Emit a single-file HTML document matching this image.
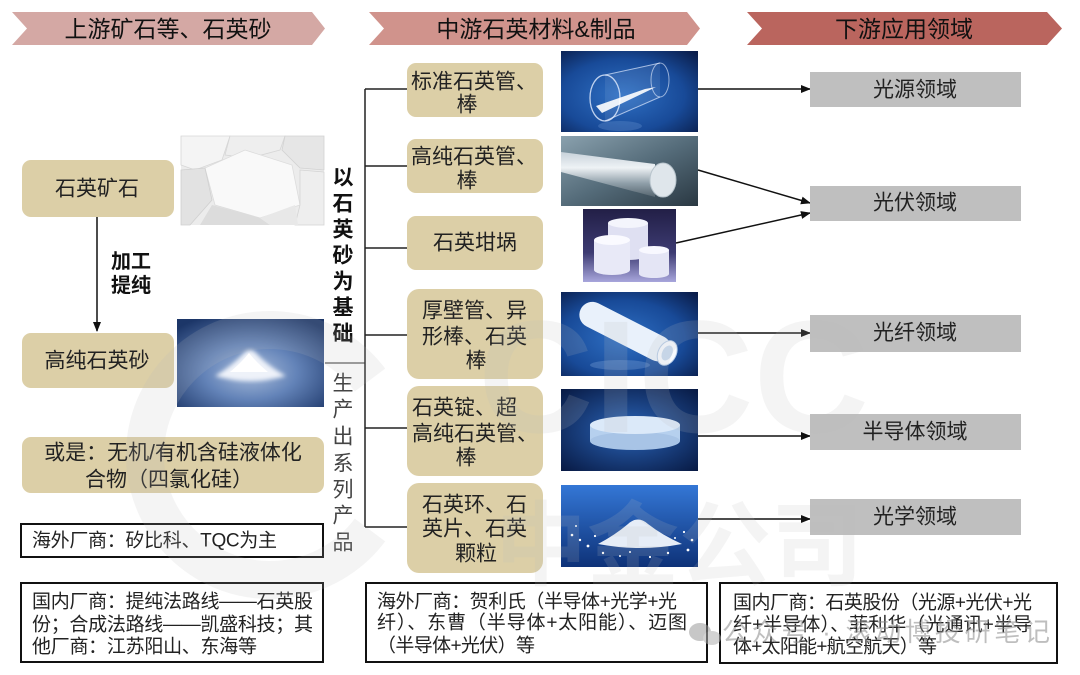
<!DOCTYPE html>
<html><head><meta charset="utf-8">
<style>
html,body{margin:0;padding:0;background:#fff;}
svg{display:block;}
text{font-family:"Liberation Sans","Noto Sans CJK SC",sans-serif;}
</style></head><body>
<svg width="1080" height="675" viewBox="0 0 1080 675" xmlns="http://www.w3.org/2000/svg">
<defs>
 <radialGradient id="gB1" cx="0.45" cy="0.55" r="0.75">
  <stop offset="0" stop-color="#2f70c4"/><stop offset="0.6" stop-color="#184a98"/><stop offset="1" stop-color="#0a1d4a"/>
 </radialGradient>
 <linearGradient id="gRodBg" x1="0" y1="0" x2="1" y2="1">
  <stop offset="0" stop-color="#8aa1ae"/><stop offset="0.5" stop-color="#556c7a"/><stop offset="1" stop-color="#2a3842"/>
 </linearGradient>
 <linearGradient id="gRod" x1="0" y1="0" x2="0" y2="1">
  <stop offset="0" stop-color="#c8d2da"/><stop offset="0.35" stop-color="#eef2f5"/><stop offset="0.7" stop-color="#8e9ea8"/><stop offset="1" stop-color="#56656f"/>
 </linearGradient>
 <linearGradient id="gCru" x1="0" y1="0" x2="0" y2="1">
  <stop offset="0" stop-color="#221f46"/><stop offset="0.6" stop-color="#3d3b72"/><stop offset="1" stop-color="#a8a6dc"/>
 </linearGradient>
 <linearGradient id="gGran" x1="0" y1="0" x2="0" y2="1">
  <stop offset="0" stop-color="#3477d6"/><stop offset="1" stop-color="#0e3278"/>
 </linearGradient>
 <radialGradient id="gPow" cx="0.5" cy="0.6" r="0.7">
  <stop offset="0" stop-color="#a9bddb"/><stop offset="0.45" stop-color="#6383b8"/><stop offset="1" stop-color="#1c3668"/>
 </radialGradient>
 <radialGradient id="gDisc" cx="0.5" cy="0.5" r="0.7">
  <stop offset="0" stop-color="#2a64b8"/><stop offset="1" stop-color="#081a44"/>
 </radialGradient>
 <marker id="ah" markerWidth="10" markerHeight="8" refX="9" refY="4" orient="auto" markerUnits="userSpaceOnUse">
  <path d="M0,0 L10,4 L0,8 z" fill="#111"/>
 </marker>
 <filter id="blur1"><feGaussianBlur stdDeviation="2"/></filter>
</defs>

<!-- Headers -->
<polygon points="12,12 312,12 325,28.5 312,45 12,45 27,28.5" fill="#d4a8a4"/>
<text x="168" y="29" font-size="23" text-anchor="middle" dominant-baseline="central" fill="#111">上游矿石等、石英砂</text>
<polygon points="369,12 687,12 700,28.5 687,45 369,45 384,28.5" fill="#d0938c"/>
<text x="536" y="29" font-size="23" text-anchor="middle" dominant-baseline="central" fill="#111">中游石英材料&amp;制品</text>
<polygon points="747,12 1047,12 1062,28.5 1047,45 747,45 762,28.5" fill="#ba655e"/>
<text x="904" y="29" font-size="23" text-anchor="middle" dominant-baseline="central" fill="#111">下游应用领域</text>

<!-- Left column -->
<rect x="22" y="160" width="152" height="57" rx="9" fill="#dccfa7"/>
<text x="97" y="189" font-size="21" text-anchor="middle" dominant-baseline="central" fill="#222">石英矿石</text>
<line x1="97" y1="217" x2="97" y2="331" stroke="#111" stroke-width="1.5" marker-end="url(#ah)"/>
<text x="131" y="262" font-size="20" font-weight="bold" text-anchor="middle" dominant-baseline="central" fill="#111">加工</text>
<text x="131" y="286" font-size="20" font-weight="bold" text-anchor="middle" dominant-baseline="central" fill="#111">提纯</text>
<rect x="22" y="333" width="152" height="55" rx="9" fill="#dccfa7"/>
<text x="97" y="361" font-size="21" text-anchor="middle" dominant-baseline="central" fill="#222">高纯石英砂</text>

<!-- Ore image -->
<g>
 <rect x="181" y="136" width="143" height="89" fill="#ececec"/>
 <polygon points="181,136 230,136 222,160 195,170 181,165" fill="#f4f4f4" stroke="#d6d6d6" stroke-width="0.8"/>
 <polygon points="230,136 285,136 280,150 250,158 225,155" fill="#eeeeee" stroke="#d6d6d6" stroke-width="0.8"/>
 <polygon points="285,136 324,136 324,170 300,168 282,150" fill="#e6e6e6" stroke="#d2d2d2" stroke-width="0.8"/>
 <polygon points="205,168 245,150 292,165 300,205 260,218 215,205" fill="#f9f9f9" stroke="#dcdcdc" stroke-width="0.8"/>
 <polygon points="181,170 205,168 212,200 190,225 181,225" fill="#e2e2e2" stroke="#d0d0d0" stroke-width="0.8"/>
 <polygon points="300,170 324,172 324,225 295,225 300,205" fill="#eeeeee" stroke="#d4d4d4" stroke-width="0.8"/>
 <polygon points="212,205 260,218 270,225 200,225" fill="#dcdcdc"/>
 <polygon points="260,218 295,205 298,225 270,225" fill="#e8e8e8"/>
</g>

<!-- Powder image -->
<g>
 <rect x="177" y="319" width="147" height="88" fill="url(#gPow)"/>
 <path d="M215,376 Q232,366 243,354 Q250,346 257,354 Q268,366 286,376 Q250,386 215,376 Z" fill="#eef2f9" filter="url(#blur1)"/>
 <path d="M230,372 Q242,362 249,353 Q256,362 268,372 Z" fill="#ffffff"/>
</g>

<rect x="22" y="437" width="302" height="56" rx="9" fill="#dccfa7"/>
<text x="173" y="453" font-size="21" text-anchor="middle" dominant-baseline="central" fill="#222">或是：无机/有机含硅液体化</text>
<text x="169" y="480" font-size="21" text-anchor="middle" dominant-baseline="central" fill="#222">合物（四氯化硅）</text>

<rect x="21" y="524" width="302" height="33" fill="#fff" stroke="#111" stroke-width="2"/>
<text x="32" y="541" font-size="19" dominant-baseline="central" fill="#222" textLength="245" lengthAdjust="spacing">海外厂商：矽比科、TQC为主</text>

<rect x="21" y="583" width="302" height="79" fill="#fff" stroke="#111" stroke-width="2"/>
<text x="32" y="602" font-size="19" dominant-baseline="central" fill="#222" textLength="281" lengthAdjust="spacing">国内厂商：提纯法路线——石英股</text>
<text x="32" y="625" font-size="19" dominant-baseline="central" fill="#222" textLength="281" lengthAdjust="spacing">份；合成法路线——凯盛科技；其</text>
<text x="32" y="647" font-size="19" dominant-baseline="central" fill="#222" textLength="225" lengthAdjust="spacing">他厂商：江苏阳山、东海等</text>

<!-- Vertical labels -->
<g font-size="21" font-weight="bold" fill="#111" text-anchor="middle" dominant-baseline="central">
 <text x="343" y="178">以</text><text x="343" y="204">石</text><text x="343" y="230">英</text>
 <text x="343" y="256">砂</text><text x="343" y="282">为</text><text x="343" y="308">基</text><text x="343" y="334">础</text>
</g>
<line x1="325" y1="363" x2="365" y2="363" stroke="#555" stroke-width="1.2"/>
<g font-size="21" fill="#444" text-anchor="middle" dominant-baseline="central">
 <text x="343" y="384">生</text><text x="343" y="410">产</text><text x="343" y="437">出</text>
 <text x="343" y="464">系</text><text x="343" y="490">列</text><text x="343" y="516">产</text><text x="343" y="543">品</text>
</g>

<!-- Trunk & branches -->
<g stroke="#222" stroke-width="1.5" fill="none">
 <line x1="365" y1="89" x2="365" y2="527"/>
 <line x1="365" y1="89" x2="407" y2="89"/>
 <line x1="365" y1="166" x2="407" y2="166"/>
 <line x1="365" y1="248" x2="407" y2="248"/>
 <line x1="365" y1="335" x2="407" y2="335"/>
 <line x1="365" y1="428" x2="407" y2="428"/>
 <line x1="365" y1="527" x2="407" y2="527"/>
</g>

<!-- Middle boxes -->
<g fill="#dccfa7">
 <rect x="407" y="63" width="136" height="54" rx="9"/>
 <rect x="407" y="139" width="136" height="54" rx="9"/>
 <rect x="407" y="216" width="136" height="54" rx="9"/>
 <rect x="407" y="289" width="136" height="90" rx="12"/>
 <rect x="407" y="386" width="136" height="90" rx="12"/>
 <rect x="407" y="483" width="136" height="90" rx="12"/>
</g>
<g font-size="21" fill="#222" dominant-baseline="central">
 <text x="411" y="82">标准石英管、</text>
 <text x="467" y="105" text-anchor="middle">棒</text>
 <text x="411" y="157">高纯石英管、</text>
 <text x="467" y="181" text-anchor="middle">棒</text>
 <text x="475" y="243" text-anchor="middle">石英坩埚</text>
 <text x="422" y="311">厚壁管、异</text>
 <text x="422" y="337">形棒、石英</text>
 <text x="476" y="361" text-anchor="middle">棒</text>
 <text x="412" y="408">石英锭、超</text>
 <text x="412" y="434">高纯石英管、</text>
 <text x="466" y="458" text-anchor="middle">棒</text>
 <text x="422" y="505">石英环、石</text>
 <text x="422" y="529">英片、石英</text>
 <text x="476" y="554" text-anchor="middle">颗粒</text>
</g>

<!-- img1 glass tube -->
<g>
 <rect x="561" y="51" width="137" height="81" fill="url(#gB1)"/>
 <polygon points="605,75 660,63 660,97 605,121" fill="#ffffff" opacity="0.08"/>
 <line x1="605" y1="75" x2="660" y2="63" stroke="#dfeaff" stroke-width="1" opacity="0.7"/>
 <line x1="605" y1="121" x2="660" y2="97" stroke="#dfeaff" stroke-width="1" opacity="0.7"/>
 <ellipse cx="605" cy="98" rx="15" ry="23" fill="none" stroke="#e6efff" stroke-width="1.3" opacity="0.8"/>
 <ellipse cx="660" cy="80" rx="9" ry="17" fill="none" stroke="#e6efff" stroke-width="1" opacity="0.6"/>
 <polygon points="596,106 645,89 656,87 602,113" fill="#ffffff" opacity="0.9"/>
 <ellipse cx="620" cy="126" rx="22" ry="5" fill="#6f9ad8" opacity="0.3"/>
</g>

<!-- img2 rod -->
<g>
 <rect x="561" y="136" width="137" height="70" fill="url(#gRodBg)"/>
 <polygon points="561,152 655,164 655,197 561,172" fill="url(#gRod)"/>
 <ellipse cx="663" cy="180" rx="13" ry="17" fill="#dfe6eb" stroke="#b8c4cc" stroke-width="1"/>
</g>

<!-- img3 crucibles -->
<g>
 <rect x="583" y="209" width="93" height="73" fill="url(#gCru)"/>
 <rect x="608" y="223" width="40" height="32" fill="#dfe0f2"/>
 <ellipse cx="628" cy="223" rx="20" ry="5" fill="#f4f5fc"/>
 <ellipse cx="628" cy="255" rx="20" ry="5" fill="#dfe0f2"/>
 <rect x="594" y="240" width="36" height="30" fill="#e8e9f7"/>
 <ellipse cx="612" cy="240" rx="18" ry="5" fill="#fafaff"/>
 <ellipse cx="612" cy="270" rx="18" ry="5" fill="#e8e9f7"/>
 <rect x="639" y="250" width="30" height="24" fill="#e4e5f5"/>
 <ellipse cx="654" cy="250" rx="15" ry="4" fill="#f8f8ff"/>
 <ellipse cx="654" cy="274" rx="15" ry="4" fill="#e4e5f5"/>
</g>

<!-- img4 thick tube -->
<g>
 <rect x="561" y="292" width="137" height="84" fill="url(#gB1)"/>
 <g transform="rotate(27 628 333)">
  <rect x="575" y="320" width="100" height="26" rx="13" fill="#e9f1fb"/>
  <ellipse cx="672" cy="333" rx="9" ry="13" fill="#f6faff" stroke="#b8cde8" stroke-width="1"/>
  <ellipse cx="672" cy="333" rx="5" ry="8" fill="#c8daf0"/>
 </g>
 <ellipse cx="620" cy="365" rx="30" ry="5" fill="#8ab0e0" opacity="0.3"/>
</g>

<!-- img5 disc -->
<g>
 <rect x="561" y="389" width="137" height="82" fill="url(#gDisc)"/>
 <rect x="590" y="425" width="90" height="16" fill="#b6d0ee"/>
 <ellipse cx="635" cy="441" rx="45" ry="9" fill="#a8c4e6"/>
 <ellipse cx="635" cy="425" rx="45" ry="9" fill="#dbe9f9"/>
</g>

<!-- img6 granules -->
<g>
 <rect x="561" y="485" width="137" height="82" fill="url(#gGran)"/>
 <path d="M598,544 Q615,535 628,524 Q638,515 648,524 Q662,535 682,544 Q640,552 598,544 Z" fill="#e6edf7"/>
 <g fill="#ffffff">
  <circle cx="572" cy="535" r="1.3"/><circle cx="580" cy="540" r="1.2"/><circle cx="588" cy="546" r="1.4"/>
  <circle cx="692" cy="540" r="1.3"/><circle cx="688" cy="550" r="1.4"/><circle cx="684" cy="532" r="1.1"/>
  <circle cx="603" cy="553" r="1.2"/><circle cx="668" cy="553" r="1.2"/><circle cx="576" cy="526" r="1"/>
  <circle cx="650" cy="557" r="1.1"/><circle cx="620" cy="556" r="1"/><circle cx="595" cy="536" r="1.1"/>
  <circle cx="675" cy="538" r="1"/><circle cx="630" cy="552" r="1"/>
 </g>
</g>

<!-- Arrows -->
<g stroke="#111" stroke-width="1.5" fill="none">
 <line x1="698" y1="89" x2="810" y2="89" marker-end="url(#ah)"/>
 <line x1="698" y1="170" x2="810" y2="203" marker-end="url(#ah)"/>
 <line x1="676" y1="243" x2="810" y2="213" marker-end="url(#ah)"/>
 <line x1="698" y1="333" x2="810" y2="333" marker-end="url(#ah)"/>
 <line x1="698" y1="436" x2="810" y2="436" marker-end="url(#ah)"/>
 <line x1="698" y1="519" x2="810" y2="519" marker-end="url(#ah)"/>
</g>

<!-- Right boxes -->
<g fill="#bfbfbf">
 <rect x="810" y="72" width="211" height="35"/>
 <rect x="810" y="186" width="211" height="35"/>
 <rect x="810" y="315" width="211" height="37"/>
 <rect x="810" y="414" width="211" height="36"/>
 <rect x="810" y="499" width="211" height="36"/>
</g>
<g font-size="21" fill="#222" text-anchor="middle" dominant-baseline="central">
 <text x="915" y="90">光源领域</text>
 <text x="915" y="203">光伏领域</text>
 <text x="915" y="333">光纤领域</text>
 <text x="915" y="432">半导体领域</text>
 <text x="915" y="517">光学领域</text>
</g>

<!-- Bottom boxes -->
<rect x="366" y="583" width="341" height="79" fill="#fff" stroke="#111" stroke-width="2"/>
<text x="377" y="602" font-size="19" dominant-baseline="central" fill="#222" textLength="300" lengthAdjust="spacing">海外厂商：贺利氏（半导体+光学+光</text>
<text x="377" y="623" font-size="19" dominant-baseline="central" fill="#222" textLength="310" lengthAdjust="spacing">纤）、东曹（半导体+太阳能）、迈图</text>
<text x="377" y="646" font-size="19" dominant-baseline="central" fill="#222" textLength="158" lengthAdjust="spacing">（半导体+光伏）等</text>

<rect x="720" y="583" width="337" height="80" fill="#fff" stroke="#111" stroke-width="2"/>
<text x="733" y="603" font-size="19" dominant-baseline="central" fill="#222" textLength="299" lengthAdjust="spacing">国内厂商：石英股份（光源+光伏+光</text>
<text x="733" y="625" font-size="19" dominant-baseline="central" fill="#222" textLength="299" lengthAdjust="spacing">纤+半导体）、菲利华（光通讯+半导</text>
<text x="733" y="647" font-size="19" dominant-baseline="central" fill="#222" textLength="204" lengthAdjust="spacing">体+太阳能+航空航天）等</text>

<!-- Watermarks -->
<g opacity="0.16">
 <path d="M370,380 A125,125 0 1 0 370,530" fill="none" stroke="#bdbdbd" stroke-width="38"/>
 <text x="478" y="432" font-size="160" font-weight="bold" fill="#bdbdbd">CICC</text>
 <text x="495" y="578" font-size="92" font-weight="bold" fill="#bdbdbd">中金公司</text>
</g>
<g opacity="0.55">
 <ellipse cx="700" cy="632" rx="11" ry="9" fill="#9a9a9a"/>
 <ellipse cx="712" cy="638" rx="9" ry="7" fill="#b0b0b0"/>
 <text x="722" y="632" font-size="26" dominant-baseline="central" fill="#8a8a8a" textLength="328" lengthAdjust="spacing">公众号 · 滚动博投研笔记</text>
</g>
</svg>
</body></html>
